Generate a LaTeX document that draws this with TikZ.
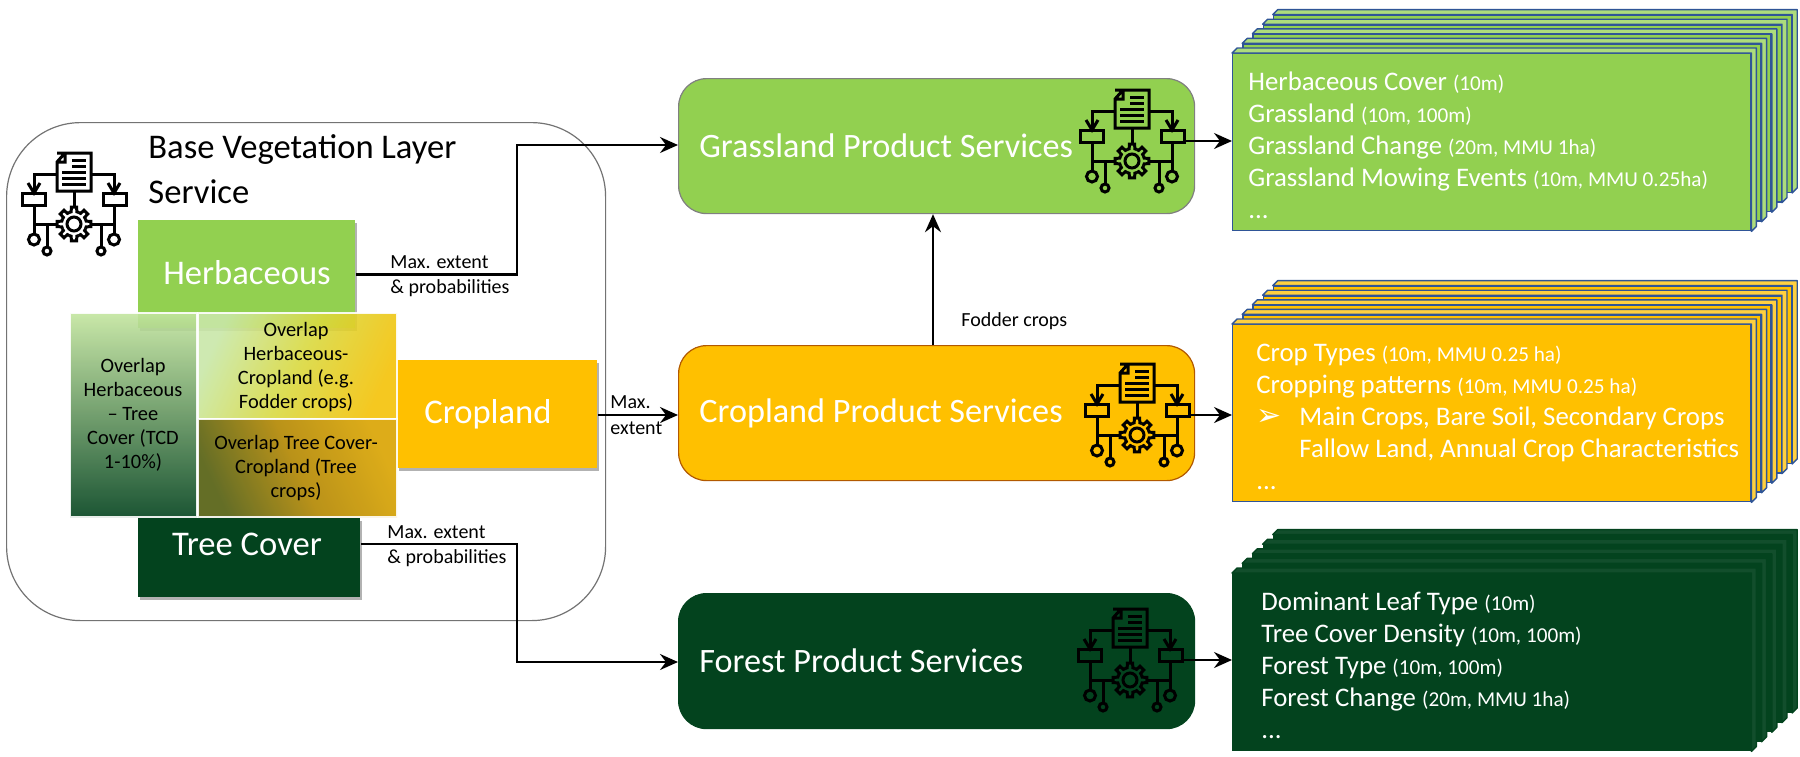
\documentclass[tikz,border=0pt]{standalone}
\usepackage{fontspec}
\setmainfont{Carlito}
\newfontfamily\symbolfont{DejaVu Sans}
\usetikzlibrary{shadows, positioning, calc, arrows.meta}
\definecolor{grassgreen}{HTML}{92D050}
\definecolor{cropyellow}{HTML}{FFC000}
\definecolor{forestgreen}{HTML}{03431E}
\definecolor{stackblue}{HTML}{2F5597}
\tikzset{
  softshadow/.style={drop shadow={shadow xshift=0.6pt,shadow yshift=-1.2pt,opacity=.3,fill=black}},
  basebox/.style={anchor=north west,inner sep=0pt,softshadow},
  baselabel/.style={text=white,font=\fontsize{17.3}{20}\selectfont},
  basetitlelabel/.style={anchor=west,inner sep=0pt,font=\fontsize{17.3}{20}\selectfont},
  prodbox/.style={rounded corners=14pt,anchor=north west,minimum width=258pt,minimum height=67.5pt,inner sep=0pt,line width=.6pt},
  layerbox/.style={anchor=north west,minimum width=259pt,minimum height=88.5pt,inner sep=0pt,line width=.7pt},
  prodlabel/.style={anchor=west,text=white,inner sep=0pt,font=\fontsize{17.1}{20}\selectfont},
  overlaplabel/.style={align=center,inner sep=0pt,font=\fontsize{10.2}{12}\selectfont},
  overlapshade/.style={draw=white,line width=1pt,opacity=.9},
  smalllabel/.style={anchor=west,inner sep=0pt,font=\fontsize{10}{12}\selectfont},
  listlabel/.style={anchor=north west,align=left,text=white,inner sep=0pt,font=\fontsize{13.4}{16}\selectfont},
  link/.style={line width=1.1pt,-{Stealth[length=9pt,width=8pt,inset=3pt]}},
  iconpart/.style={line width=1.5pt,draw=black},
  serviceicon/.pic={
    \draw[iconpart] (-17,-51) -- (17,-51) -- (17,-13) -- (-17,-13) -- (-17,-42) -- (-9,-51)
      (-17,-42) -- (-9,-42) -- (-9,-51);
    \foreach \y / \s in {-44/-2,-38/-2,-32/-12,-26/-12,-20/-12}
      \draw[iconpart] (\s,\y) -- (12,\y);
    \foreach \m in {-1,1} {
      \draw[iconpart] (\m*17,-30) -- (\m*40,-30) -- (\m*40,-11);
      \draw[iconpart] (\m*46,-21) -- (\m*40,-11) -- (\m*34,-21);
      \draw[iconpart] (\m*29,-11) rectangle (\m*52,1);
      \draw[iconpart] (\m*40,1) -- (\m*40,30);
      \draw[iconpart] (\m*40,35.5) circle (5.5);
      \draw[iconpart] (\m*17,20) -- (\m*40,20);
      \draw[iconpart] (\m*27,20) -- (\m*27,43);
      \draw[iconpart] (\m*27,47) circle (4);
    }
    \draw[iconpart] (0,-13) -- (0,4);
    \begin{scope}[shift={(0,20)}]
      \draw[iconpart] (0,0) circle (7);
      \foreach \a in {0,45,...,315}
        \draw[iconpart] (\a-22.5:12.5) -- (\a-13:12.5) -- (\a-9:17) -- (\a+9:17) -- (\a+13:12.5) -- (\a+22.5:12.5);
    \end{scope}
  }
}
\newcommand{\unitnote}[1]{{\fontsize{10.6}{16}\selectfont #1}}
\begin{document}
\begin{tikzpicture}[x=0.5pt,y=-0.5pt]
\useasboundingbox (0,0) rectangle (1800,756);
% base vegetation layer
\node[draw=black!55,line width=.6pt,rounded corners=37pt,anchor=north west,minimum width=299.5pt,minimum height=249pt] (base) at (6,122) {};
\node[basetitlelabel] (basetitle) at (148,150) {Base Vegetation Layer};
\node[basetitlelabel] (basetitleb) at (148,192) {Service};
\pic at (74,204) {serviceicon};
\node[basebox,fill=grassgreen,minimum width=108.5pt,minimum height=54pt] (herb) at (138,220) {};
\node[baselabel] (herblabel) at (247,273) {Herbaceous};
\node[basebox,fill=cropyellow,minimum width=100pt,minimum height=54pt] (crop) at (397,360) {};
\node[baselabel] (croplabel) at (488,414) {Cropland};
\node[basebox,fill=forestgreen,minimum width=111pt,minimum height=39.5pt] (tree) at (138,518) {};
\node[baselabel] (treelabel) at (247,544) {Tree Cover};
% overlaps
\shade[overlapshade,top color=grassgreen!55!white,middle color=grassgreen!45!forestgreen!75!white,bottom color=forestgreen] (70,313) rectangle (197,517);
\shade[overlapshade,left color=grassgreen!50!white,right color=cropyellow!90!grassgreen,middle color=yellow!80!black!75!white,shading angle=65] (198,313) rectangle (397,419);
\shade[overlapshade,left color=forestgreen!60!cropyellow!80!black,right color=cropyellow!85!black,middle color=cropyellow!70!black,shading angle=115] (198,419) rectangle (397,517);
\node[overlaplabel] (overlapa) at (133,415) {Overlap\\Herbaceous\\– Tree\\Cover (TCD\\1-10\%)};
\node[overlaplabel] (overlapb) at (296,367) {Overlap\\Herbaceous-\\Cropland (e.g.\\Fodder crops)};
\node[overlaplabel] (overlapc) at (296,468) {Overlap Tree Cover-\\Cropland (Tree\\crops)};
% product services
\node[prodbox,fill=grassgreen,draw=black!50] (grassprod) at (678,78) {};
\node[prodbox,fill=cropyellow,draw=orange!70!black] (cropprod) at (678,345) {};
\node[prodbox,fill=forestgreen,draw=forestgreen] (forestprod) at (678,593) {};
\node[prodlabel] (grasstitle) at (699,146) {Grassland Product Services};
\node[prodlabel] (croptitle) at (699,413) {Cropland Product Services};
\node[prodlabel] (foresttitle) at (699,661) {Forest Product Services};
\pic at (1132,141) {serviceicon};
\pic at (1137,415) {serviceicon};
\pic at (1130,660) {serviceicon};
% stacks of layers
\foreach \n / \c / \e / \b / \t in {grass/grassgreen/stackblue/75/53, crop/cropyellow/stackblue/75/324, forest/forestgreen/forestgreen/94/573} {
  \foreach \i in {4,3,2,1,0} {
    \node[layerbox,fill=\c,draw=\e] (\n layer\i) at (1232+10.2*\i,\t-9.6*\i) {};
    \draw[fill=\c!\b!white,draw=\e,line width=.7pt,line join=round] (\n layer\i.north west) -- ++(5,-5) -- ($(\n layer\i.north east)+(5,-5)$) -- ($(\n layer\i.south east)+(5,-5)$) -- (\n layer\i.south east) -- (\n layer\i.north east) -- cycle;
  }
}
\node[listlabel] (grasslist) at (1248,71) {Herbaceous Cover \unitnote{(10m)}\\Grassland \unitnote{(10m, 100m)}\\Grassland Change \unitnote{(20m, MMU 1ha)}\\Grassland Mowing Events \unitnote{(10m, MMU 0.25ha)}\\...};
\node[listlabel] (croplist) at (1256,344) {Crop Types \unitnote{(10m, MMU 0.25 ha)}\\Cropping patterns \unitnote{(10m, MMU 0.25 ha)}\\\makebox[21.5pt][l]{{\symbolfont\fontsize{15}{16}\selectfont ➢}}Main Crops, Bare Soil, Secondary Crops\\\hspace{21.5pt}Fallow Land, Annual Crop Characteristics\\...};
\node[listlabel] (forestlist) at (1261,592) {Dominant Leaf Type \unitnote{(10m)}\\Tree Cover Density \unitnote{(10m, 100m)}\\Forest Type \unitnote{(10m, 100m)}\\Forest Change \unitnote{(20m, MMU 1ha)}\\...};
% connectors
\draw[link] (herb.east) -| (517,145) -- (grassprod.west |- 0,145);
\draw[link] (crop.east |- 0,415) -- (cropprod.west |- 0,415);
\draw[link] (tree.east |- 0,544) -| (517,662) -- (forestprod.west |- 0,662);
\draw[link] (cropprod.north -| 933,0) -- (grassprod.south -| 933,0);
\draw[link] (1184,141) -- (grasslayer0.west |- 0,141);
\draw[link] (1189,415) -- (croplayer0.west |- 0,415);
\draw[link] (1181,660) -- (forestlayer0.west |- 0,660);
\node[smalllabel] (herbmax) at (390,262) {Max. extent};
\node[smalllabel] (herbprob) at (390,288) {\& probabilities};
\node[smalllabel] (treemax) at (387,532) {Max. extent};
\node[smalllabel] (treeprob) at (387,558) {\& probabilities};
\node[smalllabel] (cropmax) at (610,402) {Max.};
\node[smalllabel] (cropext) at (610,428) {extent};
\node[smalllabel] (fodder) at (961,321) {Fodder crops};
\end{tikzpicture}
\end{document}
